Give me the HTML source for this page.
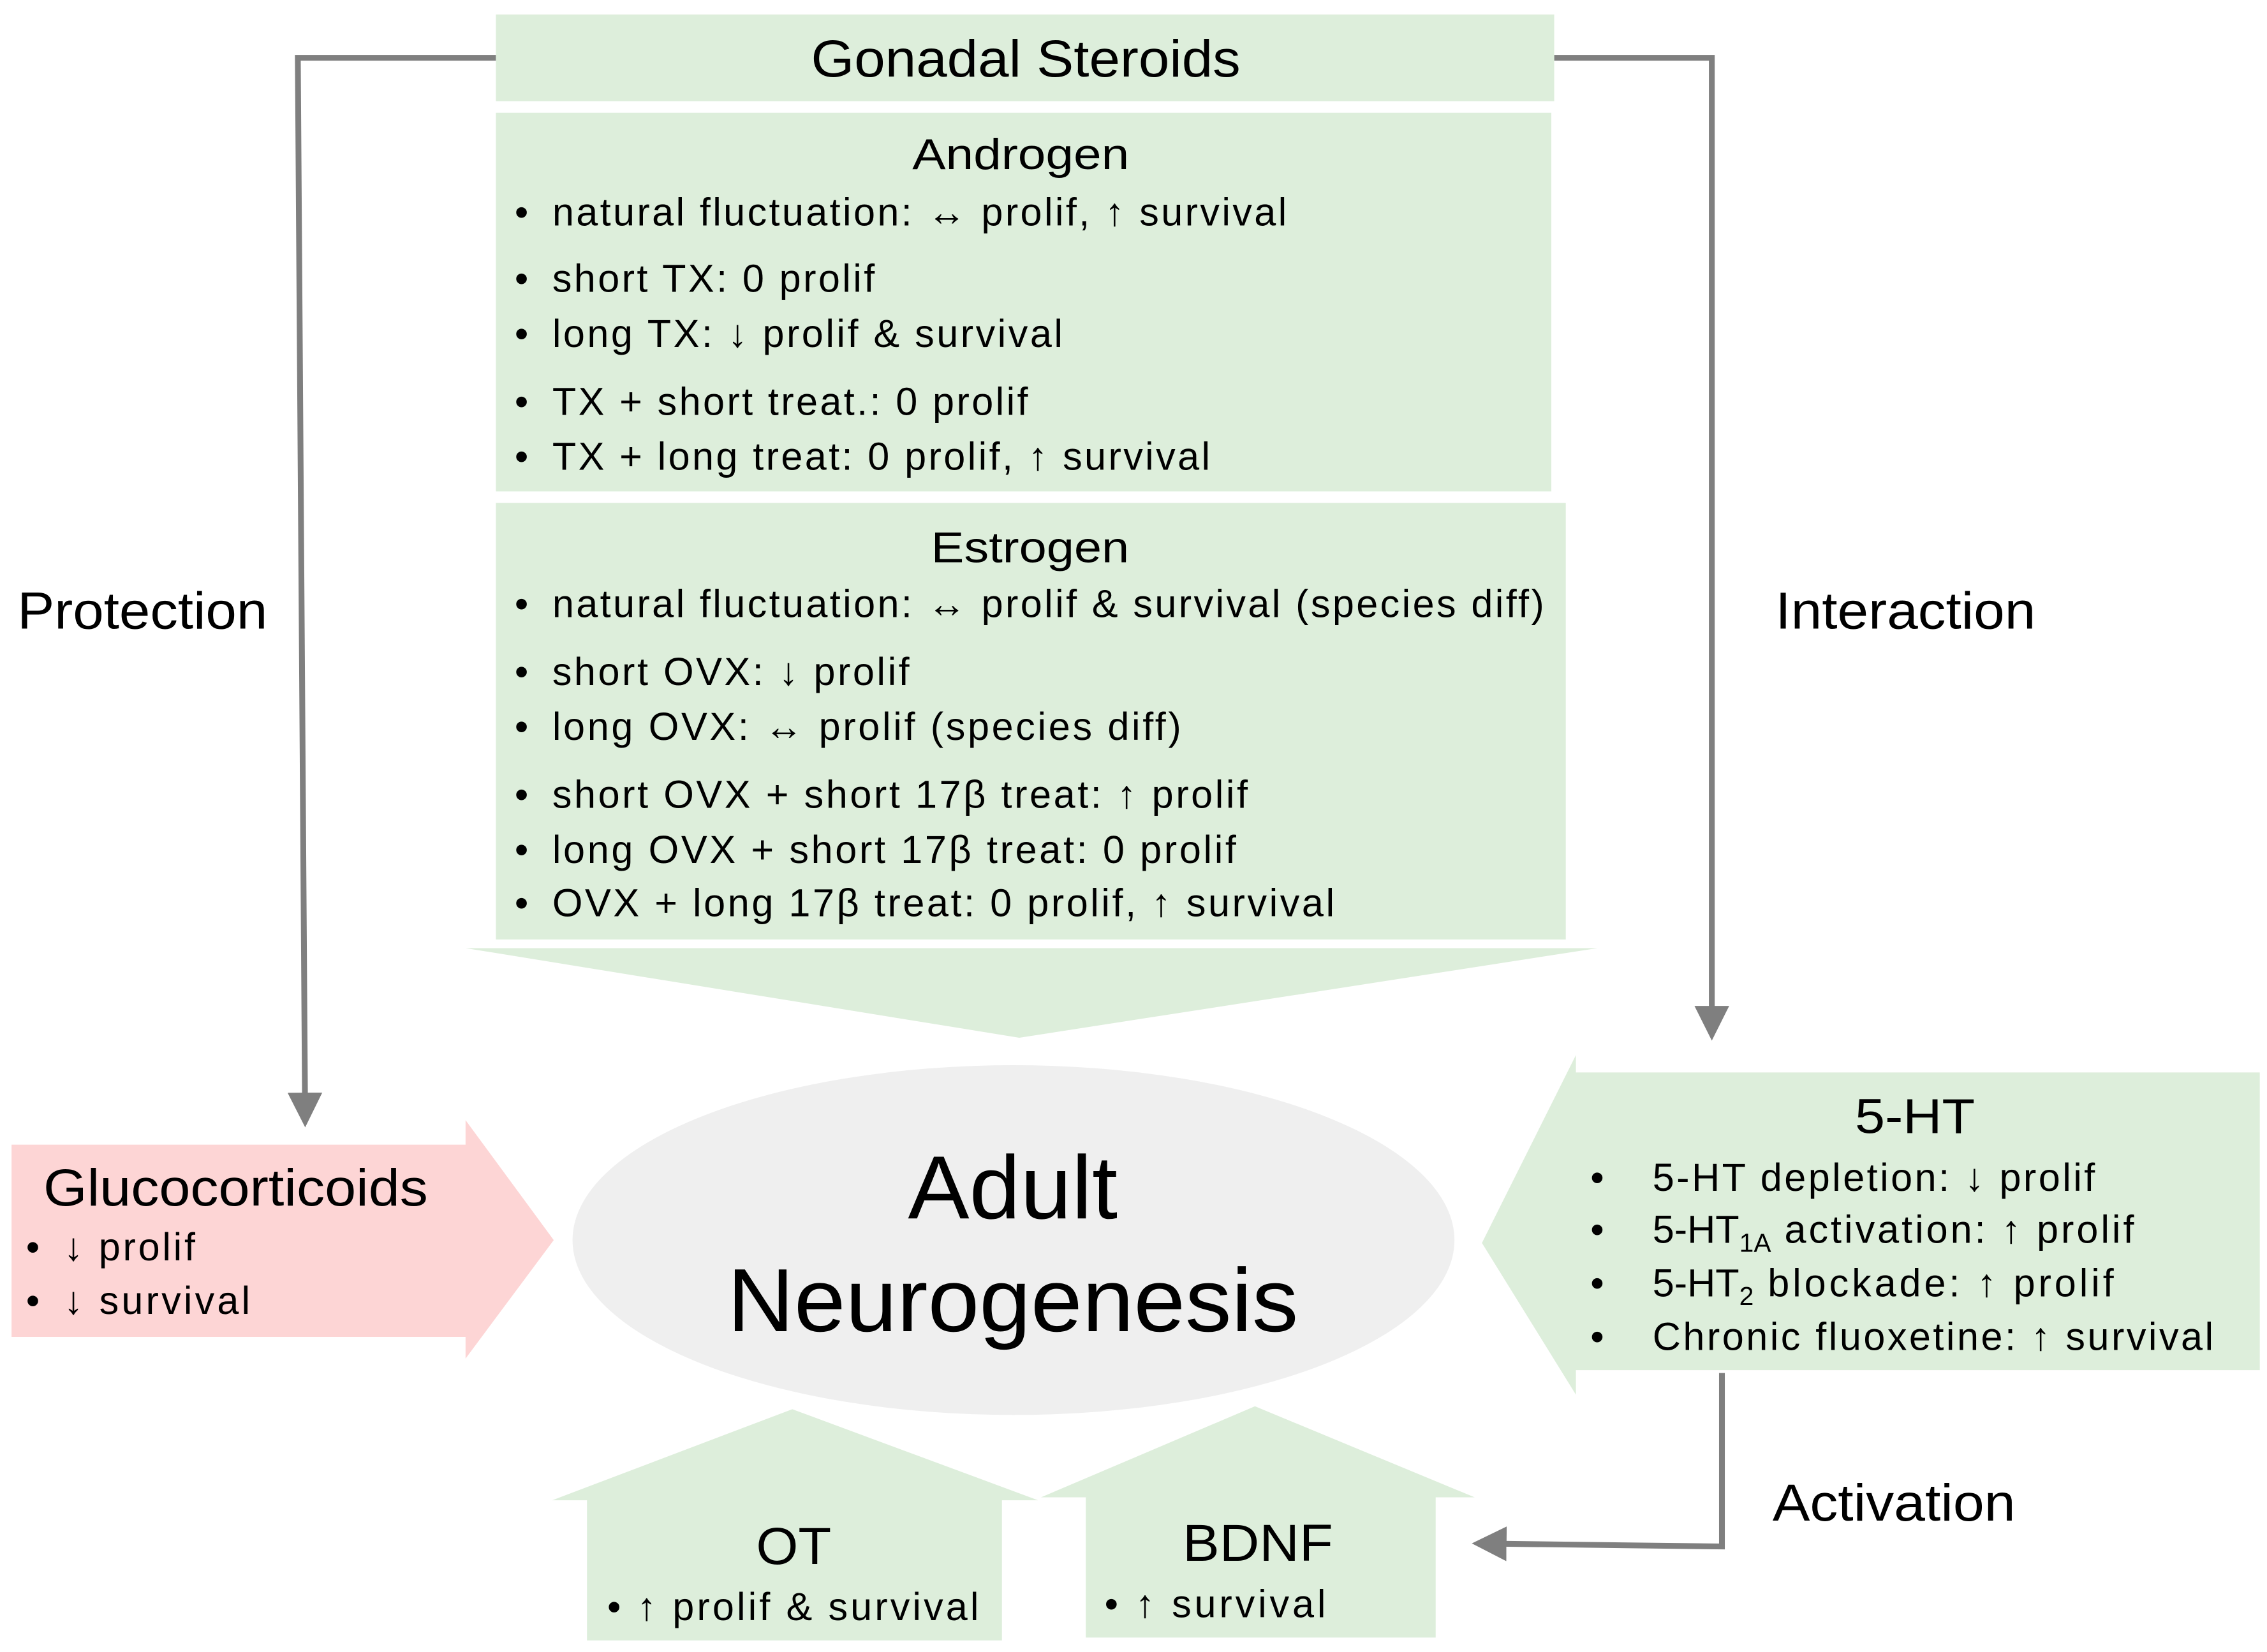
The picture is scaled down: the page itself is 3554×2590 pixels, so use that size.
<!DOCTYPE html>
<html><head><meta charset="utf-8">
<style>html,body{margin:0;padding:0;background:#fff;}svg{display:block;}
text{font-family:"Liberation Sans",Arial,sans-serif;fill:#000;}</style></head>
<body>
<svg width="3554" height="2590" viewBox="0 0 1568 1143" preserveAspectRatio="none" xmlns="http://www.w3.org/2000/svg">
<defs>
<marker id="ah" markerWidth="6" markerHeight="6" refX="3" refY="3" orient="auto" markerUnits="strokeWidth">
<path d="M0,0 L6,3 L0,6 Z" fill="#7f7f7f"/></marker>
</defs>
<polyline points="343,40 206,40 211,768" fill="none" stroke="#7f7f7f" stroke-width="4" marker-end="url(#ah)"/>
<polyline points="1075,40 1184,40 1184,708" fill="none" stroke="#7f7f7f" stroke-width="4" marker-end="url(#ah)"/>
<polyline points="1191,950 1191,1070 1030,1068" fill="none" stroke="#7f7f7f" stroke-width="4" marker-end="url(#ah)"/>

<rect x="343" y="10" width="732" height="60" fill="#ddeedb"/>
<text x="561" y="53" font-size="36" textLength="297" lengthAdjust="spacingAndGlyphs">Gonadal Steroids</text>
<rect x="343" y="78" width="730" height="262" fill="#ddeedb"/>
<text x="631" y="117" font-size="30" textLength="150" lengthAdjust="spacingAndGlyphs">Androgen</text>
<g font-size="27">
<text x="356" y="156">•</text><text x="382" y="156" textLength="508" lengthAdjust="spacing">natural  fluctuation:  ↔ prolif, ↑ survival</text>
<text x="356" y="202">•</text><text x="382" y="202" textLength="223" lengthAdjust="spacing">short TX: 0 prolif</text>
<text x="356" y="240">•</text><text x="382" y="240" textLength="353" lengthAdjust="spacing">long TX: ↓ prolif &amp; survival</text>
<text x="356" y="287">•</text><text x="382" y="287" textLength="329" lengthAdjust="spacing">TX + short treat.: 0 prolif</text>
<text x="356" y="325">•</text><text x="382" y="325" textLength="455" lengthAdjust="spacing">TX + long treat: 0 prolif, ↑ survival</text>
</g>
<rect x="343" y="348" width="740" height="302" fill="#ddeedb"/>
<text x="644" y="389" font-size="30" textLength="137" lengthAdjust="spacingAndGlyphs">Estrogen</text>
<g font-size="27">
<text x="356" y="427">•</text><text x="382" y="427" textLength="686" lengthAdjust="spacing">natural  fluctuation:  ↔ prolif &amp; survival (species diff)</text>
<text x="356" y="474">•</text><text x="382" y="474" textLength="247" lengthAdjust="spacing">short OVX: ↓ prolif</text>
<text x="356" y="512">•</text><text x="382" y="512" textLength="435" lengthAdjust="spacing">long OVX: ↔ prolif  (species diff)</text>
<text x="356" y="559">•</text><text x="382" y="559" textLength="481" lengthAdjust="spacing">short OVX + short 17β treat: ↑ prolif</text>
<text x="356" y="597">•</text><text x="382" y="597" textLength="473" lengthAdjust="spacing">long OVX + short 17β treat: 0 prolif</text>
<text x="356" y="634">•</text><text x="382" y="634" textLength="541" lengthAdjust="spacing">OVX + long  17β treat: 0 prolif, ↑ survival</text>
</g>
<polygon points="322,656 1105,656 705,718" fill="#ddeedb"/>

<text x="12" y="435" font-size="36" textLength="173" lengthAdjust="spacingAndGlyphs">Protection</text>
<text x="1228" y="435" font-size="36" textLength="180" lengthAdjust="spacingAndGlyphs">Interaction</text>
<text x="1226" y="1052" font-size="36" textLength="168" lengthAdjust="spacingAndGlyphs">Activation</text>

<ellipse cx="701" cy="858" rx="305" ry="121" fill="#efefef"/>
<text x="628" y="843" font-size="62" textLength="145" lengthAdjust="spacingAndGlyphs">Adult</text>
<text x="503" y="921" font-size="62" textLength="395" lengthAdjust="spacingAndGlyphs">Neurogenesis</text>

<polygon points="8,792 322,792 322,775 383,858 322,940 322,925 8,925" fill="#fdd5d5"/>
<text x="30" y="834" font-size="36" textLength="266" lengthAdjust="spacingAndGlyphs">Glucocorticoids</text>
<g font-size="27">
<text x="18" y="872">•</text><text x="44" y="872" textLength="91" lengthAdjust="spacing">↓ prolif</text>
<text x="18" y="909">•</text><text x="44" y="909" textLength="129" lengthAdjust="spacing">↓ survival</text>
</g>

<polygon points="1090,730 1090,742 1563,742 1563,948 1090,948 1090,965 1025,860" fill="#ddeedb"/>
<text x="1283" y="784" font-size="34" textLength="83" lengthAdjust="spacingAndGlyphs">5-HT</text>
<g font-size="27">
<text x="1100" y="824">•</text><text x="1143" y="824" textLength="306" lengthAdjust="spacing">5-HT  depletion: ↓ prolif</text>
<text x="1100" y="860">•</text><text x="1143" y="860">5-HT<tspan font-size="18" dy="6">1A</tspan><tspan dy="-6" textLength="251" lengthAdjust="spacing">  activation: ↑ prolif</tspan></text>
<text x="1100" y="897">•</text><text x="1143" y="897">5-HT<tspan font-size="18" dy="6">2</tspan><tspan dy="-6" textLength="249" lengthAdjust="spacing">  blockade: ↑ prolif</tspan></text>
<text x="1100" y="934">•</text><text x="1143" y="934" textLength="388" lengthAdjust="spacing">Chronic fluoxetine: ↑ survival</text>
</g>

<polygon points="382,1038 548,975 718,1038 693,1038 693,1135 406,1135 406,1038" fill="#ddeedb"/>
<text x="523" y="1082" font-size="36" textLength="52" lengthAdjust="spacingAndGlyphs">OT</text>
<text x="420" y="1121" font-size="27" textLength="257" lengthAdjust="spacing">•  ↑ prolif &amp; survival</text>
<polygon points="720,1036 868,973 1020,1036 993,1036 993,1133 751,1133 751,1036" fill="#ddeedb"/>
<text x="818" y="1080" font-size="36" textLength="104" lengthAdjust="spacingAndGlyphs">BDNF</text>
<text x="764" y="1119" font-size="27" textLength="153" lengthAdjust="spacing">•  ↑ survival</text>
</svg>
</body></html>
